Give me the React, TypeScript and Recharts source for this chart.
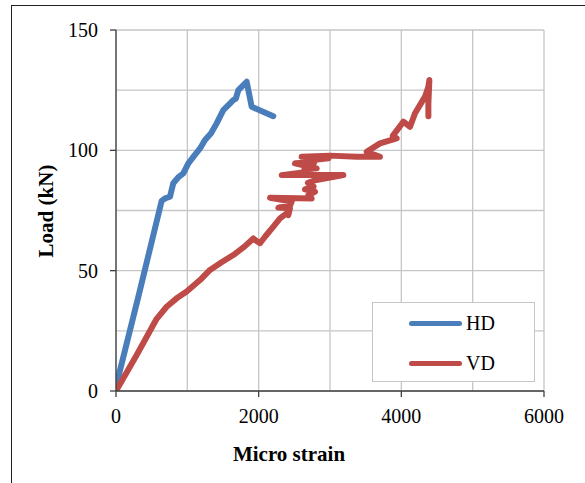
import React from 'react';
import { LineChart, Line, XAxis, YAxis, CartesianGrid, Label } from 'recharts';

// Micro strain vs load (kN)
const hdStrain = [0, 60, 320, 640, 687, 757, 803, 880, 944, 1014, 1084, 1178, 1248, 1330, 1411, 1504, 1600, 1645, 1680, 1715, 1832, 1902, 2205];
const hdLoad = [2, 9, 40, 79, 80, 80.7, 86.3, 89, 90.4, 94.6, 97.3, 100.8, 104.3, 107, 111.2, 116.7, 119.5, 120.9, 121.5, 125, 128.5, 118.1, 114.2];

const vdStrain = [0, 290, 570, 710, 850, 991, 1178, 1318, 1480, 1645, 1800, 1925, 1960, 2019, 2100, 2206, 2299, 2393, 2416, 2439, 2276, 2439, 2463, 2159, 2743, 2700, 2790, 2650, 2770, 2690, 2790, 3187, 2323, 2696, 2640, 2813, 2509, 2780, 2700, 2977, 2603, 3000, 3374, 3701, 3514, 3701, 3935, 3880, 4028, 4122, 4192, 4332, 4379, 4393, 4379, 4379];
const vdLoad = [0, 15, 30, 35, 38.5, 41.3, 46.1, 50.3, 53.5, 56.5, 60, 63.4, 62.5, 61.4, 64.5, 68.3, 71.7, 73.8, 73.1, 75.9, 76.2, 77, 78.7, 80.3, 80, 81.5, 82.8, 83.8, 85, 86.5, 87.5, 89.7, 89.7, 91.1, 92, 92.5, 94.6, 95, 95.8, 96.7, 97.3, 97.8, 97.3, 97.3, 99.4, 102.9, 105, 106, 111.9, 109.8, 115.4, 122.3, 126.4, 129.2, 119.5, 114.2];

const xTicks = [0, 2000, 4000, 6000];
const yTicks = [0, 50, 100, 150];
const xGrid = [0, 1000, 2000, 3000, 4000, 5000, 6000];
const yGrid = [0, 25, 50, 75, 100, 125, 150];

const HD_COLOR = '#4a7ebb';
const VD_COLOR = '#be4b48';
const FONT = '"Liberation Serif", "Times New Roman", serif';

const toPoints = (xs: number[], ys: number[]) => xs.map((x, i) => ({ x, y: ys[i] }));
const hdData = toPoints(hdStrain, hdLoad);
const vdData = toPoints(vdStrain, vdLoad);

const series = [
  { name: 'HD', color: HD_COLOR, data: hdData },
  { name: 'VD', color: VD_COLOR, data: vdData },
];

const tickStyle = { fontFamily: FONT, fontSize: 20, fill: '#000' };

export default function App() {
  return (
    <div style={{ position: 'absolute', left: 0, top: 0, width: 585, height: 483, overflow: 'hidden', background: '#fff' }}>
      <div style={{ position: 'absolute', left: 11, top: 5, width: 640, height: 540, border: '1px solid #222' }} />
      <LineChart width={585} height={483} margin={{ top: 30, right: 41, left: 0, bottom: 0 }} style={{ position: 'absolute', left: 0, top: 0 }}>
        <CartesianGrid horizontalValues={yGrid} verticalValues={xGrid} stroke="#c6c6c6" strokeWidth={1.3} />
        <XAxis
          type="number"
          dataKey="x"
          domain={[0, 6000]}
          ticks={xTicks}
          allowDataOverflow
          height={92}
          tickSize={6}
          tickMargin={12}
          stroke="#404040"
          strokeWidth={1.3}
          tick={tickStyle}
        >
          <Label
            content={() => (
              <text x={289} y={454} textAnchor="middle" dominantBaseline="central" fontFamily={FONT} fontSize={21} fontWeight="bold" fill="#000">
                Micro strain
              </text>
            )}
          />
        </XAxis>
        <YAxis
          type="number"
          dataKey="y"
          domain={[0, 150]}
          ticks={yTicks}
          allowDataOverflow
          width={116}
          tickSize={6}
          tickMargin={12}
          stroke="#404040"
          strokeWidth={1.3}
          tick={tickStyle}
        >
          <Label
            content={() => (
              <text x={46} y={211} transform="rotate(-90, 46, 211)" textAnchor="middle" dominantBaseline="central" fontFamily={FONT} fontSize={21} fontWeight="bold" fill="#000">
                Load (kN)
              </text>
            )}
          />
        </YAxis>
        {series.map(s => (
          <Line
            key={s.name}
            name={s.name}
            data={s.data}
            dataKey="y"
            type="linear"
            stroke={s.color}
            strokeWidth={6}
            strokeLinejoin="round"
            strokeLinecap="round"
            dot={false}
            activeDot={false}
            isAnimationActive={false}
          />
        ))}
      </LineChart>
      <div
        style={{
          position: 'absolute',
          left: 372,
          top: 302,
          width: 161,
          height: 78,
          border: '1px solid #c6c6c6',
          background: '#fff',
          fontFamily: FONT,
          fontSize: 20,
        }}
      >
        {series.map((s, i) => (
          <div key={s.name} style={{ position: 'absolute', left: 36, top: 8 + i * 40, height: 24, display: 'flex', alignItems: 'center' }}>
            <span style={{ display: 'inline-block', width: 53, height: 5, borderRadius: 3, background: s.color }} />
            <span style={{ marginLeft: 4, lineHeight: '24px' }}>{s.name}</span>
          </div>
        ))}
      </div>
    </div>
  );
}
